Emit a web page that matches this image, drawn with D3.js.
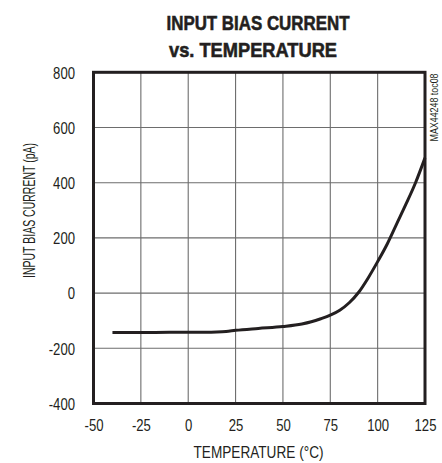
<!DOCTYPE html>
<html>
<head>
<meta charset="utf-8">
<script src="https://cdn.jsdelivr.net/npm/d3@7"></script>
<style>
  html, body { margin: 0; padding: 0; background: #fff; }
  svg { display: block; }
  text { font-family: "Liberation Sans", Arial, sans-serif; fill: #231f20; }
</style>
</head>
<body>
<svg id="chart" width="442" height="463"></svg>
<script>
const titleLines = ["INPUT BIAS CURRENT", "vs. TEMPERATURE"];
const xLabel = "TEMPERATURE (°C)";
const yLabel = "INPUT BIAS CURRENT (pA)";
const sideNote = "MAX44248 toc08";

const xTicks = [-50, -25, 0, 25, 50, 75, 100, 125];
const yTicks = [-400, -200, 0, 200, 400, 600, 800];

const temperature = [-40, -25, -10, 0, 10, 15, 20, 25, 37, 50, 60, 65, 70, 75, 80, 85, 90, 95, 100, 105, 110, 115, 120, 125];
const biasCurrent = [-143, -143, -142, -142, -142, -141, -139, -135, -128, -121, -112, -104, -93, -80, -62, -35, 3, 55, 114, 177, 250, 323, 400, 490];

const svg = d3.select("#chart");
const L = 93.5, R = 425, T = 72.3, B = 403.5;
const SX = 0.82;

const x = d3.scaleLinear().domain([-50, 125]).range([L, R]);
const y = d3.scaleLinear().domain([-400, 800]).range([B, T]);

// grid
svg.append("g").selectAll("line").data(xTicks.slice(1, -1)).join("line")
  .attr("x1", d => x(d)).attr("x2", d => x(d)).attr("y1", T).attr("y2", B)
  .attr("stroke", "#6d6d6d").attr("stroke-width", 1.1);
svg.append("g").selectAll("line").data(yTicks.slice(1, -1)).join("line")
  .attr("y1", d => y(d)).attr("y2", d => y(d)).attr("x1", L).attr("x2", R)
  .attr("stroke", "#6d6d6d").attr("stroke-width", 1.1);

// curve
const line = d3.line().x((d, i) => x(temperature[i])).y(d => y(d)).curve(d3.curveMonotoneX);
svg.append("path").datum(biasCurrent).attr("d", line)
  .attr("fill", "none").attr("stroke", "#231f20").attr("stroke-width", 3);

// frame
svg.append("rect").attr("x", L).attr("y", T).attr("width", R - L).attr("height", B - T)
  .attr("fill", "none").attr("stroke", "#231f20").attr("stroke-width", 3);

const fmt = d => String(d);

// axes labels via d3 axes
const xAxis = d3.axisBottom(x).tickValues(xTicks).tickSize(0).tickPadding(0).tickFormat(fmt);
const gx = svg.append("g").attr("transform", `translate(0,${B})`).call(xAxis);
gx.select(".domain").remove();
gx.selectAll("text").attr("y", 27.5).attr("dy", null).attr("x", 0)
  .attr("transform", `scale(${SX},1)`)
  .style("font-size", "16px").style("font-family", '"Liberation Sans", Arial, sans-serif').attr("fill", "#231f20");

const yAxis = d3.axisLeft(y).tickValues(yTicks).tickSize(0).tickPadding(0).tickFormat(fmt);
const gy = svg.append("g").attr("transform", `translate(${L},0)`).call(yAxis);
gy.select(".domain").remove();
gy.selectAll("text").attr("x", -18.5 / SX).attr("dy", "0.36em")
  .attr("transform", `scale(${SX},1)`)
  .style("font-size", "16px").style("font-family", '"Liberation Sans", Arial, sans-serif').attr("fill", "#231f20");

// titles
svg.append("text").attr("x", 258).attr("y", 30).attr("text-anchor", "middle")
  .style("font-size", "21px").style("font-weight", "bold")
  .attr("stroke", "#231f20").attr("stroke-width", 0.6)
  .attr("textLength", 183).attr("lengthAdjust", "spacingAndGlyphs").text(titleLines[0]);
svg.append("text").attr("x", 253).attr("y", 57).attr("text-anchor", "middle")
  .style("font-size", "21px").style("font-weight", "bold")
  .attr("stroke", "#231f20").attr("stroke-width", 0.6)
  .attr("textLength", 168).attr("lengthAdjust", "spacingAndGlyphs").text(titleLines[1]);

svg.append("text").attr("x", 258.5).attr("y", 457.5).attr("text-anchor", "middle")
  .style("font-size", "16px").attr("textLength", 130).attr("lengthAdjust", "spacingAndGlyphs").text(xLabel);

svg.append("text").attr("transform", "translate(34.5,210.5) rotate(-90)").attr("text-anchor", "middle")
  .style("font-size", "16px").attr("textLength", 135).attr("lengthAdjust", "spacingAndGlyphs").text(yLabel);

svg.append("text").attr("transform", "translate(437.5,107.5) rotate(-90)").attr("text-anchor", "middle")
  .style("font-size", "11px").attr("textLength", 68).attr("lengthAdjust", "spacingAndGlyphs").text(sideNote);
</script>
</body>
</html>
